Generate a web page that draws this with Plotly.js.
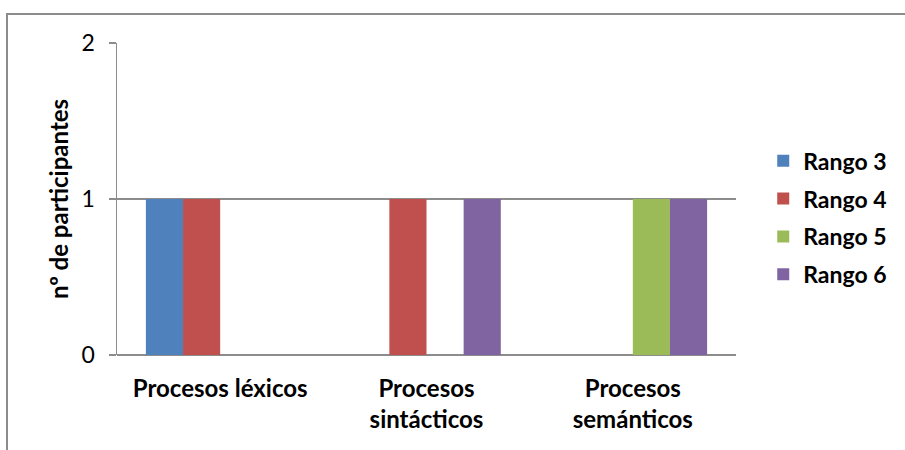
<!DOCTYPE html>
<html>
<head>
<meta charset="utf-8">
<script src="https://cdn.plot.ly/plotly-3.0.1.min.js"></script>
<style>
html,body{margin:0;padding:0;background:#fff;}
#wrap{position:relative;width:905px;height:450px;overflow:hidden;}
#frame{position:absolute;left:6px;top:13px;width:920px;height:460px;border:2px solid #8c8c8c;box-sizing:border-box;pointer-events:none;}
#chart{position:absolute;left:0;top:0;width:905px;height:450px;}
</style>
</head>
<body>
<div id="wrap">
<div id="chart"></div>
<div id="frame"></div>
</div>
<script>
const categories = ["Procesos léxicos", "Procesos<br>sintácticos", "Procesos<br>semánticos"];
const seriesNames = ["Rango 3", "Rango 4", "Rango 5", "Rango 6"];
const rango3 = [1, 0, 0];
const rango4 = [1, 1, 0];
const rango5 = [0, 0, 1];
const rango6 = [0, 1, 1];
const yTicks = [0, 1, 2];
const colors = ["#4F81BD", "#C0504D", "#9BBB59", "#8064A2"];
const values = [rango3, rango4, rango5, rango6];

const FONT = "Lato, Carlito, Calibri, 'Open Sans', sans-serif";

const traces = values.map((v, i) => ({
  type: "bar",
  name: seriesNames[i],
  x: categories,
  y: v,
  marker: {color: colors[i], line: {width: 0}},
  legendgroup: "g" + i,
  hoverinfo: "none"
}));

const layout = {
  width: 905, height: 450,
  margin: {l: 117, r: 169, t: 43, b: 94.5, pad: 0, autoexpand: false},
  paper_bgcolor: "#fff", plot_bgcolor: "#fff",
  barmode: "group",
  bargap: 0.28,
  bargroupgap: 0,
  font: {family: FONT, color: "#000", size: 23},
  xaxis: {
    type: "category",
    showgrid: false,
    showline: false,
    ticks: "",
    tickfont: {family: FONT, size: 24, color: "#000", weight: "bold"},
    ticklabelstandoff: 17,
    automargin: false,
    fixedrange: true,
    zeroline: false
  },
  yaxis: {
    range: [0, 2],
    tickvals: yTicks,
    ticktext: yTicks.map(String),
    showgrid: true,
    gridcolor: "#8c8c8c",
    gridwidth: 1.5,
    showline: true,
    linecolor: "#8c8c8c",
    linewidth: 1.5,
    ticks: "outside",
    ticklen: 7,
    tickwidth: 1.5,
    tickcolor: "#8c8c8c",
    zeroline: true,
    zerolinecolor: "#8c8c8c",
    zerolinewidth: 1.5,
    tickfont: {family: FONT, size: 23, color: "#000"},
    ticklabelstandoff: 9,
    automargin: true,
    title: {text: "nº de participantes", font: {family: FONT, size: 24, color: "#000", weight: "bold"}, standoff: 6},
    fixedrange: true
  },
  legend: {
    x: 1.044, xanchor: "left",
    y: 0.44, yanchor: "middle",
    traceorder: "grouped",
    tracegroupgap: 5,
    font: {family: FONT, size: 23, color: "#000", weight: "bold"},
    itemwidth: 30,
    bgcolor: "rgba(0,0,0,0)"
  },
  showlegend: true
};

Plotly.newPlot("chart", traces, layout, {staticPlot: true, displayModeBar: false});
</script>
</body>
</html>
